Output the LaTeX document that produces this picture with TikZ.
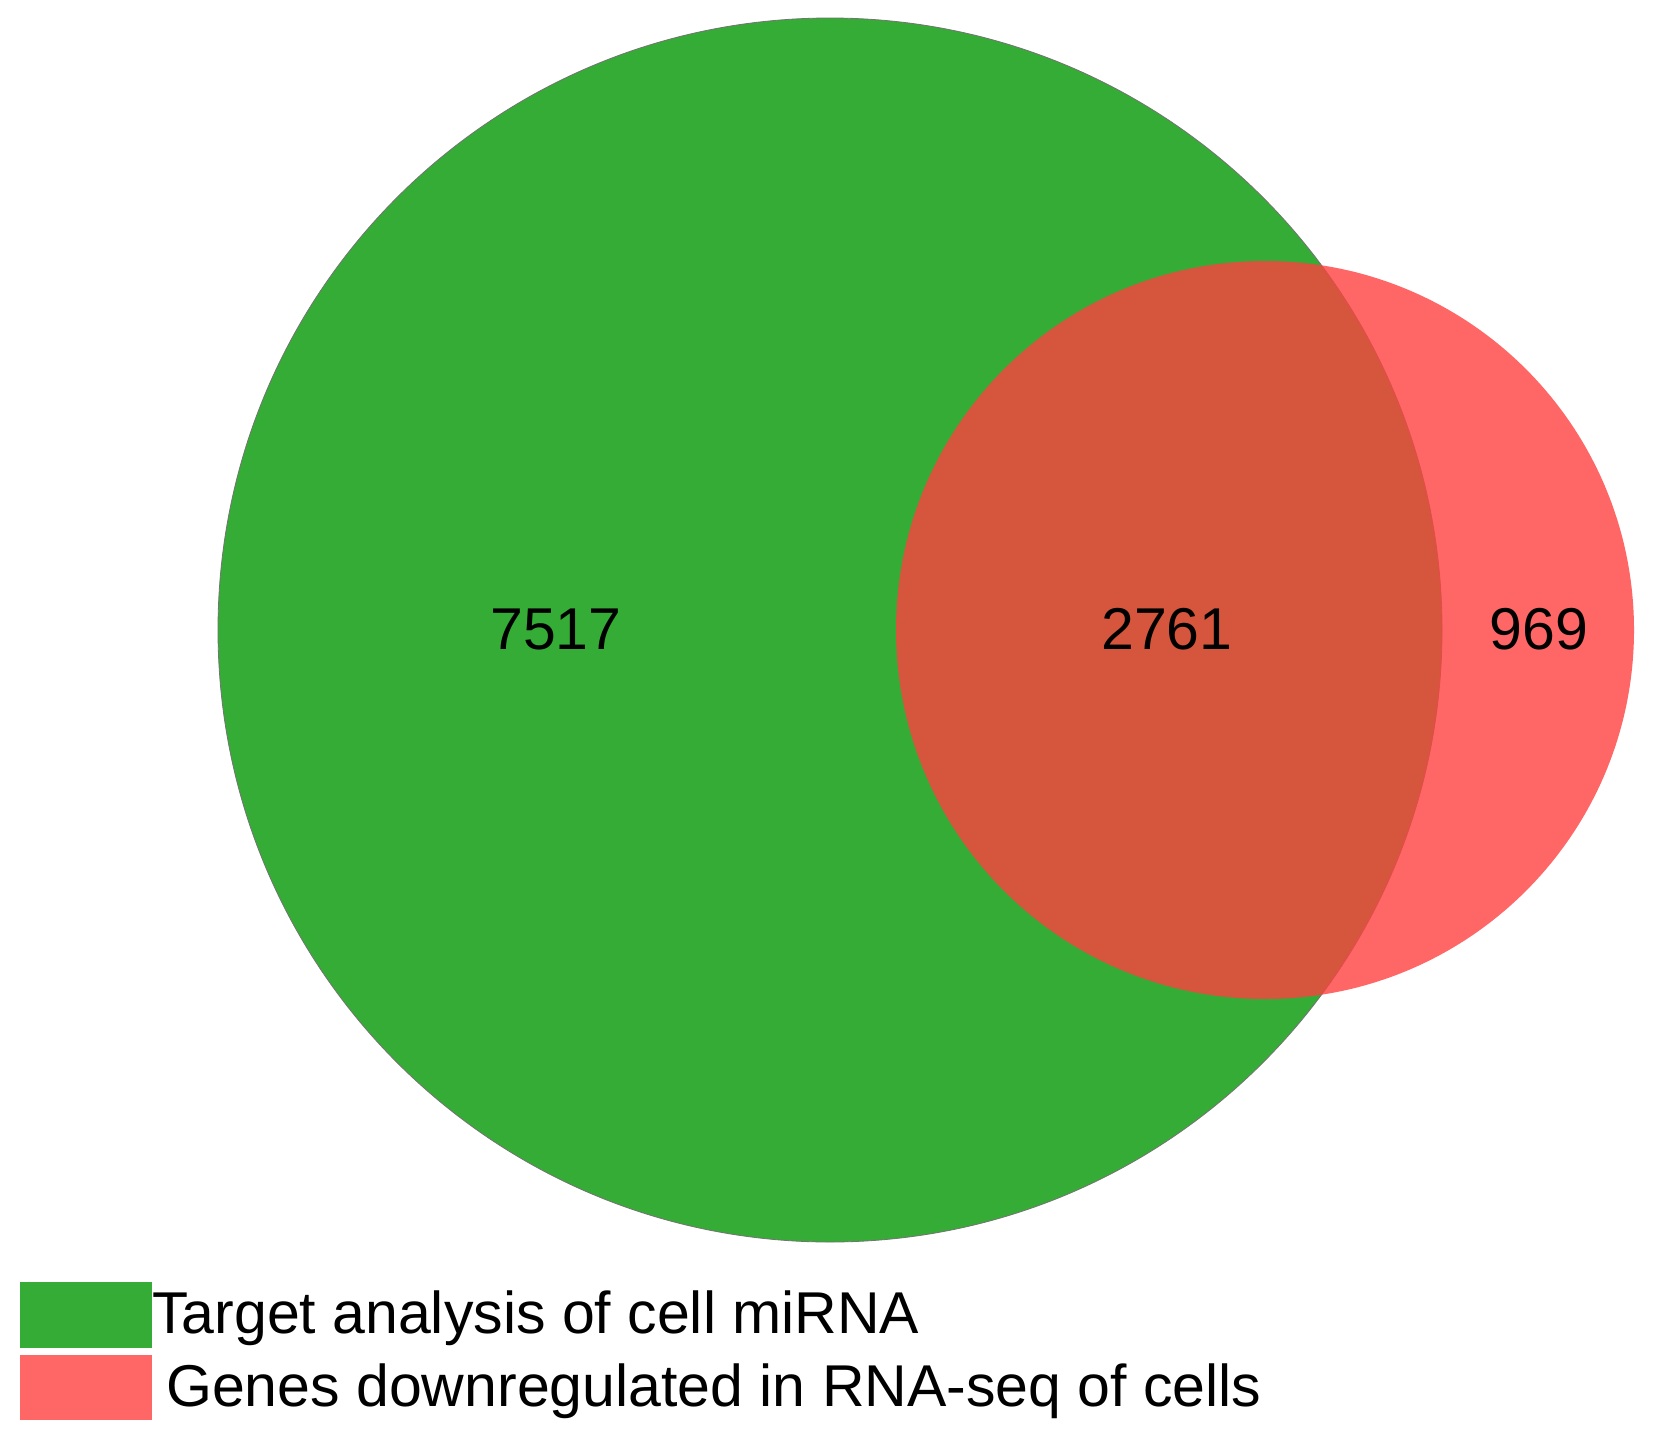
\documentclass[tikz,border=0pt]{standalone}
\usepackage{fontspec}
\setmainfont{Liberation Sans}
\definecolor{vgreen}{RGB}{53,172,53}
\definecolor{vred}{RGB}{255,64,64}
\definecolor{lgred}{RGB}{255,102,102}
\begin{document}
\begin{tikzpicture}[x=1pt,y=-1pt,
  setcircle/.style={circle,inner sep=0pt},
  numlabel/.style={inner sep=0pt,font=\fontsize{59}{70}\selectfont},
  legtext/.style={inner sep=0pt,anchor=base west,font=\fontsize{59}{70}\selectfont},
  legbox/.style={inner sep=0pt,anchor=north west,minimum width=132pt,minimum height=66pt}]
\useasboundingbox (0,0) rectangle (1653,1440);
\fill[white] (0,0) rectangle (1653,1440);
\node[setcircle,minimum size=1224pt,fill=vgreen,draw=black!55,line width=0.8pt] (G) at (830,630) {};
\node[setcircle,minimum size=738pt,fill=vred,fill opacity=0.8] (R) at (1265,630) {};
\node[numlabel] (n1) at (556,629) {7517};
\node[numlabel] (n2) at (1167,629) {2761};
\node[numlabel] (n3) at (1539,629) {969};
\node[legbox,fill=vgreen] (b1) at (20,1282) {};
\node[legbox,fill=lgred,minimum height=65pt] (b2) at (20,1355) {};
\node[legtext] (t1) at (152,1333) {Target analysis of cell miRNA};
\node[legtext] (t2) at (166,1406) {Genes downregulated in RNA-seq of cells};
\end{tikzpicture}
\end{document}
